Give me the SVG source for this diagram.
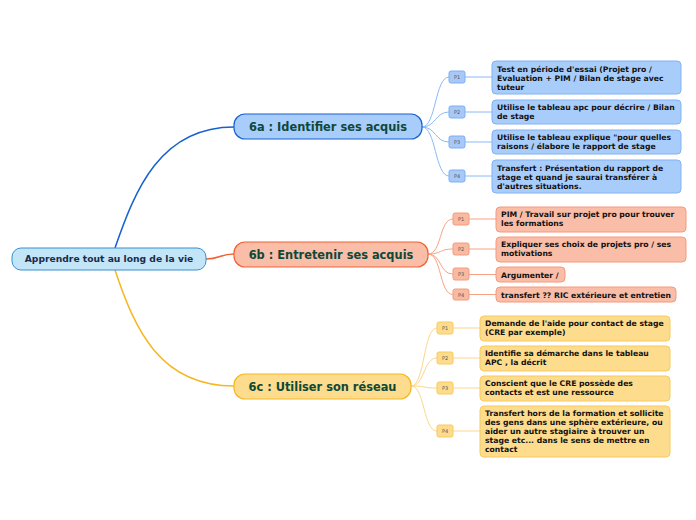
<svg xmlns="http://www.w3.org/2000/svg" width="696" height="520" viewBox="0 0 696 520">
<style>
text{font-family:"DejaVu Sans",Verdana,sans-serif;font-weight:bold}
.root{fill:#c2e6f8;stroke:#3b8fd0;stroke-width:1}
.rt{font-size:9.2px;fill:#1b2b4b}
.bt{font-size:11.4px;fill:#0e4838}
.lt{font-size:7.7px;fill:#111}
.pt{font-size:5px;fill:#555;font-weight:normal}
.a{fill:#a9cdfb;stroke:#1762d2;stroke-width:1.2}
.b{fill:#f9bda8;stroke:#f06234;stroke-width:1.2}
.c{fill:#fddc8e;stroke:#f5b722;stroke-width:1.2}
.pa{fill:#a7c9fa;stroke:#7eaef2;stroke-width:1}
.pb{fill:#f9baa2;stroke:#f59a7c;stroke-width:1}
.pc{fill:#fddc8e;stroke:#f8cb5a;stroke-width:1}
.la{fill:#a9cdfb;stroke:#80b2f5;stroke-width:1}
.lb{fill:#f9bda8;stroke:#f59a7c;stroke-width:1}
.lc{fill:#fddc8e;stroke:#f8cb5a;stroke-width:1}
.ca{fill:none;stroke:#8ab9f6;stroke-width:1}
.cb{fill:none;stroke:#f8a285;stroke-width:1}
.cc{fill:none;stroke:#fdd68a;stroke-width:1}
</style>
<g id="connectors">
<path d="M115,248 C135,190 160,127 234,127" fill="none" stroke="#1762d2" stroke-width="1.5"/>
<path d="M206,259 C220,259 220,254 234,254" fill="none" stroke="#f06234" stroke-width="1.5"/>
<path d="M115,270 C135,330 160,386 234,386" fill="none" stroke="#f5b722" stroke-width="1.5"/>
<path class="ca" d="M422,127 C436,127 435,77 449,77"/>
<path class="ca" d="M422,127 C436,127 435,112 449,112"/>
<path class="ca" d="M422,127 C436,127 435,142 449,142"/>
<path class="ca" d="M422,127 C436,127 435,176 449,176"/>
<path class="ca" d="M465,77 H492 M465,112 H492 M465,142 H492 M465,176 H492"/>
<path class="cb" d="M428,254 C442,254 439,219 453,219"/>
<path class="cb" d="M428,254 C442,254 439,249 453,249"/>
<path class="cb" d="M428,254 C442,254 439,274 453,274"/>
<path class="cb" d="M428,254 C442,254 439,294.5 453,294.5"/>
<path class="cb" d="M469,219 H496 M469,249 H496 M469,274.5 H496 M469,294.5 H496"/>
<path class="cc" d="M411,386 C425,386 423,328 437,328"/>
<path class="cc" d="M411,386 C425,386 423,358 437,358"/>
<path class="cc" d="M411,386 C425,386 423,388 437,388"/>
<path class="cc" d="M411,386 C425,386 423,431 437,431"/>
<path class="cc" d="M453,328 H480 M453,358 H480 M453,388 H480 M453,431 H480"/>
</g>
<g id="root">
<rect class="root" x="12" y="248" width="194" height="22" rx="9"/>
<text class="rt" x="109" y="262.3" text-anchor="middle">Apprendre tout au long de la vie</text>
</g>
<g id="n6a">
<rect class="a" x="234" y="114" width="188" height="25" rx="11"/>
<text class="bt" x="328" y="130.8" text-anchor="middle">6a : Identifier ses acquis</text>
</g>
<g id="n6b">
<rect class="b" x="234" y="242" width="194" height="25" rx="11"/>
<text class="bt" x="331" y="258.8" text-anchor="middle">6b : Entretenir ses acquis</text>
</g>
<g id="n6c">
<rect class="c" x="234" y="374" width="177" height="25" rx="11"/>
<text class="bt" x="322.5" y="390.8" text-anchor="middle">6c : Utiliser son réseau</text>
</g>
<g id="a-p1"><rect class="pa" x="449" y="71" width="16" height="12" rx="2"/><text class="pt" x="457" y="79" text-anchor="middle">P1</text></g>
<g id="a-p2"><rect class="pa" x="449" y="106" width="16" height="12" rx="2"/><text class="pt" x="457" y="114" text-anchor="middle">P2</text></g>
<g id="a-p3"><rect class="pa" x="449" y="136" width="16" height="12" rx="2"/><text class="pt" x="457" y="144" text-anchor="middle">P3</text></g>
<g id="a-p4"><rect class="pa" x="449" y="170" width="16" height="12" rx="2"/><text class="pt" x="457" y="178" text-anchor="middle">P4</text></g>
<g id="a-l1"><rect class="la" x="492" y="61" width="189" height="33" rx="4"/>
<text class="lt" x="497" y="71.5">Test en période d'essai (Projet pro /</text>
<text class="lt" x="497" y="80.5">Evaluation + PIM / Bilan de stage avec</text>
<text class="lt" x="497" y="89.5">tuteur</text></g>
<g id="a-l2"><rect class="la" x="492" y="100" width="189" height="24" rx="4"/>
<text class="lt" x="497" y="110">Utilise le tableau apc pour décrire / Bilan</text>
<text class="lt" x="497" y="119">de stage</text></g>
<g id="a-l3"><rect class="la" x="492" y="130" width="189" height="24" rx="4"/>
<text class="lt" x="497" y="140">Utilise le tableau explique "pour quelles</text>
<text class="lt" x="497" y="149">raisons / élabore le rapport de stage</text></g>
<g id="a-l4"><rect class="la" x="492" y="160" width="189" height="33" rx="4"/>
<text class="lt" x="497" y="170.5">Transfert : Présentation du rapport de</text>
<text class="lt" x="497" y="179.5">stage et quand je saurai transférer à</text>
<text class="lt" x="497" y="188.5">d'autres situations.</text></g>
<g id="b-p1"><rect class="pb" x="453" y="213" width="16" height="12" rx="2"/><text class="pt" x="461" y="221" text-anchor="middle">P1</text></g>
<g id="b-p2"><rect class="pb" x="453" y="243" width="16" height="12" rx="2"/><text class="pt" x="461" y="251" text-anchor="middle">P2</text></g>
<g id="b-p3"><rect class="pb" x="453" y="268" width="16" height="12" rx="2"/><text class="pt" x="461" y="276" text-anchor="middle">P3</text></g>
<g id="b-p4"><rect class="pb" x="453" y="289" width="16" height="11" rx="2"/><text class="pt" x="461" y="296.5" text-anchor="middle">P4</text></g>
<g id="b-l1"><rect class="lb" x="496" y="207" width="190" height="25" rx="4"/>
<text class="lt" x="501" y="217">PIM / Travail sur projet pro pour trouver</text>
<text class="lt" x="501" y="226">les formations</text></g>
<g id="b-l2"><rect class="lb" x="496" y="237" width="190" height="25" rx="4"/>
<text class="lt" x="501" y="247">Expliquer ses choix de projets pro / ses</text>
<text class="lt" x="501" y="256">motivations</text></g>
<g id="b-l3"><rect class="lb" x="496" y="267" width="69" height="15" rx="4"/>
<text class="lt" x="501" y="277.5">Argumenter /</text></g>
<g id="b-l4"><rect class="lb" x="496" y="287" width="180" height="15" rx="4"/>
<text class="lt" x="501" y="297.5">transfert ?? RIC extérieure et entretien</text></g>
<g id="c-p1"><rect class="pc" x="437" y="322" width="16" height="12" rx="2"/><text class="pt" x="445" y="330" text-anchor="middle">P1</text></g>
<g id="c-p2"><rect class="pc" x="437" y="352" width="16" height="12" rx="2"/><text class="pt" x="445" y="360" text-anchor="middle">P2</text></g>
<g id="c-p3"><rect class="pc" x="437" y="382" width="16" height="12" rx="2"/><text class="pt" x="445" y="390" text-anchor="middle">P3</text></g>
<g id="c-p4"><rect class="pc" x="437" y="425" width="16" height="12" rx="2"/><text class="pt" x="445" y="433" text-anchor="middle">P4</text></g>
<g id="c-l1"><rect class="lc" x="480" y="316" width="190" height="25" rx="4"/>
<text class="lt" x="485" y="326">Demande de l'aide pour contact de stage</text>
<text class="lt" x="485" y="335">(CRE par exemple)</text></g>
<g id="c-l2"><rect class="lc" x="480" y="346" width="190" height="25" rx="4"/>
<text class="lt" x="485" y="356">Identifie sa démarche dans le tableau</text>
<text class="lt" x="485" y="365">APC , la décrit</text></g>
<g id="c-l3"><rect class="lc" x="480" y="376" width="190" height="25" rx="4"/>
<text class="lt" x="485" y="386">Conscient que le CRE possède des</text>
<text class="lt" x="485" y="395">contacts et est une ressource</text></g>
<g id="c-l4"><rect class="lc" x="480" y="406" width="190" height="51" rx="4"/>
<text class="lt" x="485" y="416">Transfert hors de la formation et sollicite</text>
<text class="lt" x="485" y="425">des gens dans une sphère extérieure, ou</text>
<text class="lt" x="485" y="434">aider un autre stagiaire à trouver un</text>
<text class="lt" x="485" y="443">stage etc... dans le sens de mettre en</text>
<text class="lt" x="485" y="452">contact</text></g>
</svg>
